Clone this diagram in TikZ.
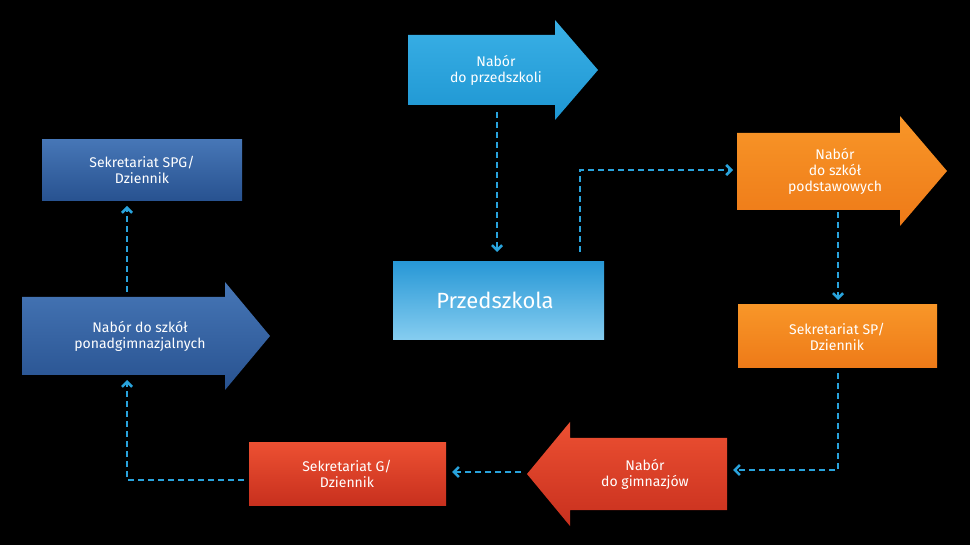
\documentclass[tikz,border=0pt]{standalone}
\usepackage{fontspec}
\setmainfont{Fira Sans}
\usetikzlibrary{arrows.meta}
\begin{document}
\begin{tikzpicture}[x=1pt,y=-1pt,
  conn/.style={draw={rgb,255:red,41;green,163;blue,220},line width=2.6pt,dash pattern=on 6pt off 4pt,-{Straight Barb[length=5pt,width=10pt]}},
  lbl/.style={text=white,align=center,font=\fontsize{14}{16}\selectfont,inner sep=0pt}]
\definecolor{cyanA}{RGB}{58,176,230}\definecolor{cyanB}{RGB}{30,150,210}
\definecolor{przA}{RGB}{40,152,214}\definecolor{przB}{RGB}{134,205,240}
\definecolor{orA}{RGB}{248,150,40}\definecolor{orB}{RGB}{238,122,24}
\definecolor{rdA}{RGB}{236,80,50}\definecolor{rdB}{RGB}{200,48,30}
\definecolor{dbA}{RGB}{70,118,182}\definecolor{dbB}{RGB}{40,82,144}
\fill[black] (0,0) rectangle (970,545);
\useasboundingbox (0,0) rectangle (970,545);
% arrow 1
\shade[top color=cyanA,bottom color=cyanB] (408,35)--(555,35)--(555,20)--(598,70)--(555,120)--(555,105)--(408,105)--cycle;
\node[lbl] (a1) at (496,70) {Nabór\\do przedszkoli};
\coordinate (a1b) at (497,112);
% przedszkola
\shade[top color=przA,bottom color=przB] (393,262) rectangle (604,340);
\node[text=white,font=\fontsize{22}{26}\selectfont,inner sep=0pt] (p) at (495,300) {Przedszkola};
\coordinate (pt) at (497,252); \coordinate (ps) at (580,252);
% orange arrow
\shade[top color=orA,bottom color=orB] (737,133)--(900,133)--(900,116)--(947,171)--(900,226)--(900,210)--(737,210)--cycle;
\node[lbl] (a2) at (835,171) {Nabór\\do szkół\\podstawowych};
\coordinate (a2l) at (733,170); \coordinate (a2b) at (838,212);
% orange rect
\shade[top color=orA,bottom color=orB] (738,305) rectangle (937,368);
\node[lbl] (r1) at (837,337) {Sekretariat SP/\\Dziennik};
\coordinate (r1t) at (838,300); \coordinate (r1b) at (838,373);
% red arrow
\shade[top color=rdA,bottom color=rdB] (727,438)--(570,438)--(570,422)--(527,474)--(570,526)--(570,510)--(727,510)--cycle;
\node[lbl] (a3) at (645,474) {Nabór\\do gimnazjów};
\coordinate (a3r) at (733,470); \coordinate (a3l) at (521,472);
% red rect
\shade[top color=rdA,bottom color=rdB] (249,443) rectangle (446,505);
\node[lbl] (r2) at (347,474) {Sekretariat G/\\Dziennik};
\coordinate (r2r) at (452,472); \coordinate (r2l) at (244,480);
% dark blue arrow
\shade[top color=dbA,bottom color=dbB] (22,297)--(225,297)--(225,282)--(270,336)--(225,390)--(225,375)--(22,375)--cycle;
\node[lbl] (a4) at (140,336) {Nabór do szkół\\ponadgimnazjalnych};
\coordinate (a4b) at (127,380); \coordinate (a4t) at (127,292);
% dark blue rect
\shade[top color=dbA,bottom color=dbB] (42,140) rectangle (242,201);
\node[lbl] (r3) at (142,170) {Sekretariat SPG/\\Dziennik};
\coordinate (r3b) at (127,206);
% connectors
\draw[conn] (a1b) -- (pt);
\draw[conn] (ps) |- (a2l);
\draw[conn] (a2b) -- (r1t);
\draw[conn] (r1b) |- (a3r);
\draw[conn] (a3l) -- (r2r);
\draw[conn] (r2l) -| (a4b);
\draw[conn] (a4t) -- (r3b);
\end{tikzpicture}
\end{document}
